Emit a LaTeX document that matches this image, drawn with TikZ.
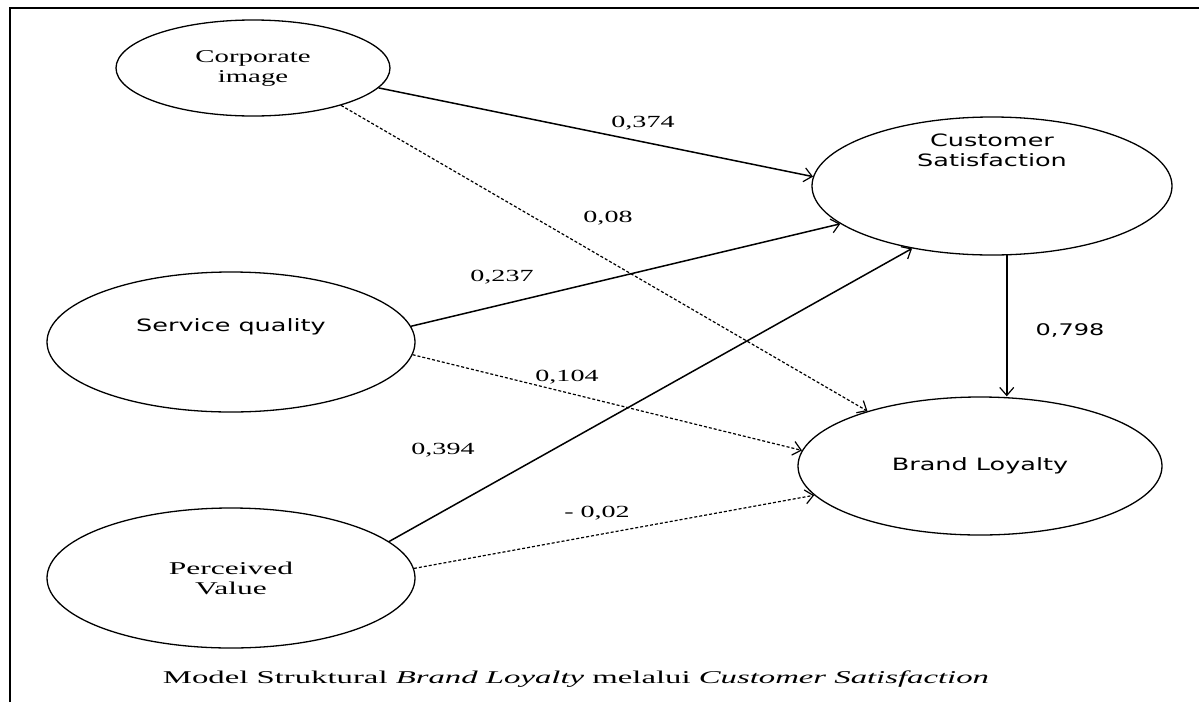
\documentclass[tikz,border=0pt]{standalone}
\usepackage{fontspec}
\setmainfont{Liberation Serif}
\newfontfamily\vsans[FakeStretch=1.5]{DejaVu Sans}
\usetikzlibrary{shapes.geometric,arrows.meta}

% serif text of the scan is drawn wider than the font
\newcommand{\widen}[2][1.65]{\scalebox{#1}[1]{#2}}

\begin{document}
\begin{tikzpicture}[x=1pt,y=-1pt,
    latent/.style={shape=ellipse,draw,line width=1.3pt,inner sep=0pt,align=center},
    effect/.style={line width=1.5pt,-{Straight Barb[length=8pt,width=14pt,line width=1.2pt]}},
    weakeffect/.style={effect,line width=1.2pt,densely dashed},
    coef/.style={font=\fontsize{17}{20}\selectfont}]

    \useasboundingbox (0,0) rectangle (1199,702);

    \draw[line width=2pt]
      (10,702) -- (10,8) -- (1199,8);

    \node[latent,minimum width=274pt,minimum height=96pt,
      font=\fontsize{18}{20}\selectfont] (ci) at (253,68)
      {\widen[1.6]{Corporate}\\\widen[1.6]{image}};
    \node[latent,minimum width=368pt,minimum height=140pt,
      font=\vsans\fontsize{17}{20}\selectfont,
      text height=14pt,text depth=36pt] (sq) at (231,342) {Service quality};
    \node[latent,minimum width=368pt,minimum height=140pt,
      font=\fontsize{18}{20}\selectfont] (pv) at (231,578)
      {\widen[1.75]{Perceived}\\\widen[1.75]{Value}};
    \node[latent,minimum width=360pt,minimum height=138pt,
      font=\vsans\fontsize{17}{20}\selectfont,
      text height=14pt,text depth=53pt] (cs) at (992,186) {Customer\\Satisfaction};
    \node[latent,minimum width=364pt,minimum height=138pt,
      font=\vsans\fontsize{17}{20}\selectfont] (bl) at (980,466) {Brand Loyalty};

    \draw[effect] (ci.-9) -- (cs.177);
    \draw[weakeffect] (ci.-23) -- (bl.154);
    \draw[effect] (sq.5) -- (cs.194);
    \draw[weakeffect] (sq.-4) -- (bl.175);
    \draw[effect] (pv.13) -- (cs.218);
    \draw[weakeffect] (pv.3) -- (bl.190);
    \draw[effect] (cs.-78) -- (cs.-78 |- bl.north);

    \node[coef] (c374) at (643,123) {\widen{0,374}};
    \node[coef] (c08) at (608,218) {\widen{0,08}};
    \node[coef] (c237) at (502,277) {\widen{0,237}};
    \node[coef] (c104) at (567,377) {\widen{0,104}};
    \node[coef] (c394) at (443,450) {\widen{0,394}};
    \node[coef] (c02) at (597,513) {\widen{- 0,02}};
    \node[font=\vsans\fontsize{16}{20}\selectfont] (c798) at (1070,330) {0,798};

    \node[anchor=base,font=\fontsize{18}{20}\selectfont] (caption) at (576,683)
      {\widen[1.82]{Model Struktural \textit{Brand Loyalty} melalui \textit{Customer Satisfaction}}};
\end{tikzpicture}
\end{document}
